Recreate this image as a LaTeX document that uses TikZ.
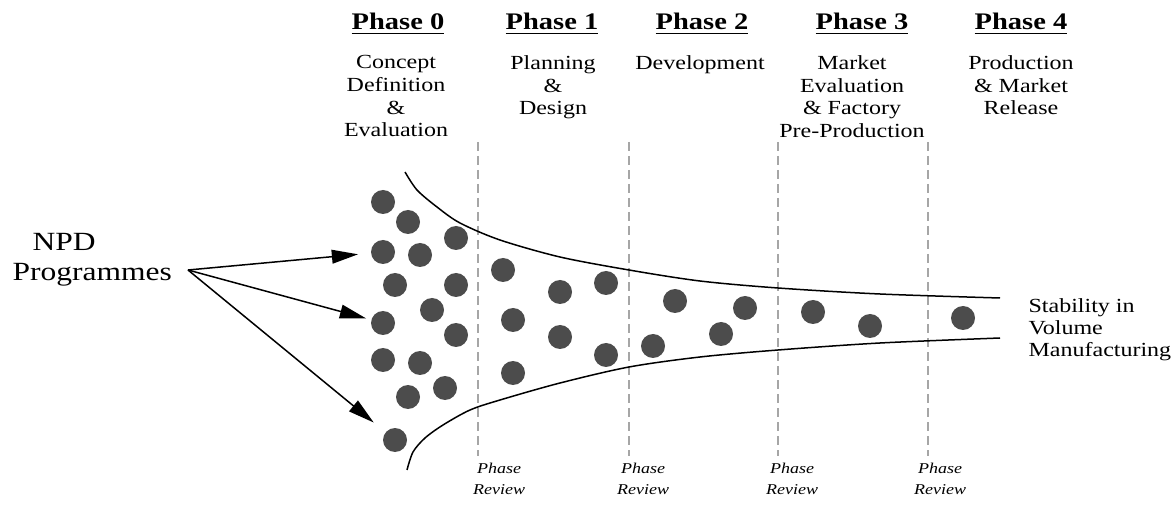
\documentclass[tikz,border=0pt]{standalone}
\usepackage{fontspec}
\setmainfont{Liberation Serif}
\usetikzlibrary{arrows.meta}

\tikzset{
  stretched/.style={xscale=1.2},
  phasehead/.style={stretched, anchor=north, inner sep=0pt, font=\fontsize{9.5}{11}\selectfont\bfseries},
  phasetext/.style={stretched, anchor=north, inner sep=0pt, align=center, font=\fontsize{8}{9.1}\selectfont},
  review/.style={stretched, inner sep=0pt, align=center, font=\fontsize{6}{8.4}\selectfont\itshape},
  prog/.style={circle, fill=black!70, inner sep=0pt, minimum size=9.6pt},
  gate/.style={gray!70, line width=0.5pt, dash pattern=on 3.6pt off 2pt},
  feed/.style={line width=0.6pt, -{Triangle[length=10.5pt,width=5.5pt]}},
  funnel/.style={line width=0.6pt}
}

\begin{document}
\begin{tikzpicture}[x=0.4pt,y=-0.4pt]
\useasboundingbox (0,0) rectangle (1173,505);
% phase headings
\node[phasehead] (ph0) at (398,13) {\underline{Phase 0}};
\node[phasehead] (ph1) at (552,13) {\underline{Phase 1}};
\node[phasehead] (ph2) at (702,13) {\underline{Phase 2}};
\node[phasehead] (ph3) at (862,13) {\underline{Phase 3}};
\node[phasehead] (ph4) at (1021,13) {\underline{Phase 4}};
% what happens in each phase
\node[phasetext] (ds0) at (396,55) {Concept\\Definition\\\&\\Evaluation};
\node[phasetext] (ds1) at (553,55) {Planning\\\&\\Design};
\node[phasetext] (ds2) at (700,55) {Development};
\node[phasetext] (ds3) at (852,55) {Market\\Evaluation\\\& Factory\\Pre-Production};
\node[phasetext] (ds4) at (1021,55) {Production\\\& Market\\Release};
% phase review gates
\foreach \x [count=\i] in {478,629,778,928} {
  \coordinate (gt\i) at (\x,142);
  \coordinate (gb\i) at (\x,456);
  \draw[gate] (gt\i) -- (gb\i);
}
\foreach \x [count=\i] in {499,643,792,940}
  \node[review] (rv\i) at (\x,479) {Phase\\Review};
% funnel
\draw[funnel] plot[smooth] coordinates {(405,172) (417,190) (437,207) (460,223) (500,240) (560,257) (629,270) (700,281) (778,288) (880,294) (1000,298)};
\draw[funnel] plot[smooth] coordinates {(407,470) (413,452) (425,438) (443,425) (470,410) (500,400) (560,383) (629,367) (700,357) (778,350) (880,343) (1000,338)};
% programmes
\foreach \x/\y [count=\i] in {383/202, 408/222, 456/238, 383/252, 420/255,
  395/285, 456/285, 432/310, 383/323, 456/335, 383/360, 420/363, 445/388,
  408/397, 395/440, 503/270, 513/320, 513/373, 560/292, 560/337, 606/283,
  606/355, 653/346, 675/301, 721/334, 745/308, 813/312, 870/326, 963/318}
  \node[prog] (d\i) at (\x,\y) {};
% input and output
\node[stretched, anchor=north west, inner sep=0pt, align=left, font=\fontsize{10.5}{12}\selectfont] (npd) at (12,233) {\hspace*{6.7pt}NPD\\Programmes};
\coordinate (src) at (188,270);
\draw[feed, shorten >=5pt] (src) -- (d4);
\draw[feed, shorten >=2pt] (src) -- (d9);
\draw[feed, shorten >=6pt] (src) -- (d15);
\node[stretched, anchor=north west, inner sep=0pt, align=left, font=\fontsize{8}{8.8}\selectfont] (stab) at (1028,298) {Stability in\\Volume\\Manufacturing};
\end{tikzpicture}
\end{document}
